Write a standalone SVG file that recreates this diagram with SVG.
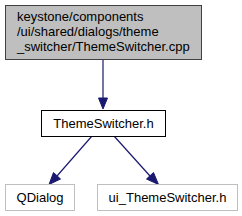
<svg xmlns="http://www.w3.org/2000/svg" width="242" height="216" viewBox="0 0 242 216">
<defs>
<style>
text{font-family:"Liberation Sans",Arial,sans-serif;font-size:13px;fill:#000}
.edge{stroke:#191970;stroke-width:1.2;fill:none}
.head{fill:#191970;stroke:#191970}
</style>
</defs>
<rect width="242" height="216" fill="#fff"/>
<g id="edges">
<line class="edge" x1="103" y1="60" x2="103" y2="98"/>
<polygon class="head" points="98.5,98 107.5,98 103,109"/>
<line class="edge" x1="92" y1="136" x2="57" y2="176"/>
<polygon class="head" points="53.5,172.5 60.5,179 49,184.5"/>
<line class="edge" x1="114" y1="136" x2="150" y2="176"/>
<polygon class="head" points="146.5,179 153.5,172.5 158.5,184.5"/>
</g>
<g id="node1">
<rect x="5.5" y="5.5" width="196" height="54" fill="#bfbfbf" stroke="#404040"/>
<text x="17" y="21">keystone/components</text>
<text x="17" y="36">/ui/shared/dialogs/theme</text>
<text x="17" y="51">_switcher/ThemeSwitcher.cpp</text>
</g>
<g id="node2">
<rect x="41.5" y="110.5" width="124" height="26" fill="#fff" stroke="#000"/>
<text x="103.5" y="127.5" text-anchor="middle">ThemeSwitcher.h</text>
</g>
<g id="node3">
<rect x="5.5" y="184.5" width="69" height="26" fill="#fff" stroke="#bfbfbf"/>
<text x="40" y="201.5" text-anchor="middle">QDialog</text>
</g>
<g id="node4">
<rect x="97.5" y="184.5" width="140" height="26" fill="#fff" stroke="#bfbfbf"/>
<text x="167.5" y="201.5" text-anchor="middle">ui_ThemeSwitcher.h</text>
</g>
</svg>
